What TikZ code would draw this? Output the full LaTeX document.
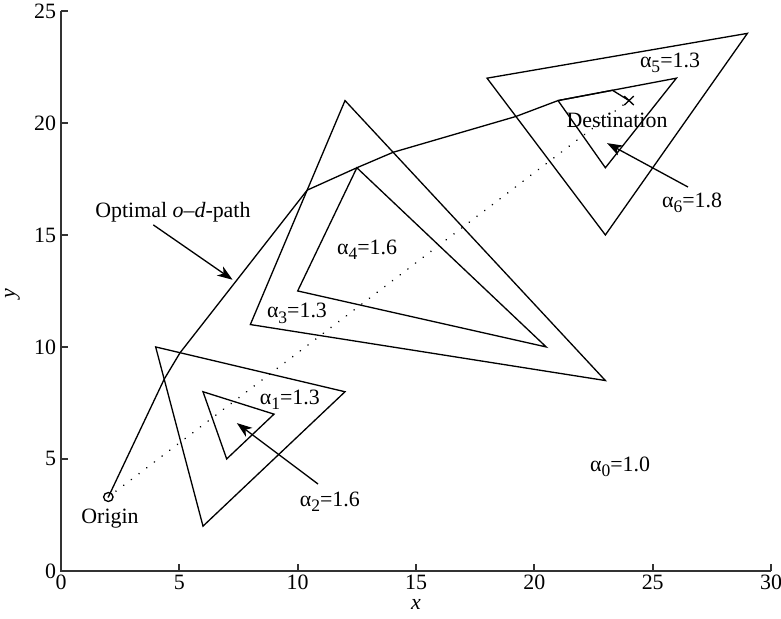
\documentclass[tikz,border=0pt]{standalone}
\usepackage{fontspec}
\setmainfont{Liberation Serif}
\usetikzlibrary{arrows.meta,calc}
\newcommand{\alab}[2]{α\raisebox{-0.5ex}{\footnotesize #1}=#2}

\begin{document}
\begin{tikzpicture}[x=0.38cm,y=0.3596cm,
    edge/.style={line width=0.6pt},
    pointer/.style={line width=0.6pt,-{Stealth[length=7pt,width=5pt,inset=2pt]}},
    axis/.style={line width=0.9pt,black!80},
    lab/.style={font=\fontsize{10}{12}\selectfont,inner sep=1pt}]

\useasboundingbox (-2.577,-2.143) rectangle (30.42,25.49);

% ============================================
% 1. AXES
% ============================================
\draw[axis] (0,25) -- (0,0) -- (30,0);
\foreach \t in {0,5,...,30}{
    \draw[axis] (\t,0) -- (\t,0.3);
    \node[lab,anchor=north,inner sep=0.5pt] at (\t,-0.12) {\t};
}
\foreach \t in {0,5,...,25}{
    \draw[axis] (0,\t) -- (0.3,\t);
    \node[lab,anchor=east] at (-0.1,\t) {\t};
}
\node[lab,inner sep=0pt] (xlab) at (15,-1.5) {\textit{x}};
\node[lab,rotate=90] (ylab) at (-2.05,12.4) {\textit{y}};

% ============================================
% 2. REGIONS
% ============================================
% Triangle 1 and 2
\draw[edge] (4,10) -- (12,8) -- (6,2) -- cycle;
\draw[edge] (6,8) -- (9,7) -- (7,5) -- cycle;
% Triangle 3 and 4
\draw[edge] (8,11) -- (12,21) -- (23,8.5) -- cycle;
\draw[edge] (10,12.5) -- (12.5,18) -- (20.5,10) -- cycle;
% Triangle 5 and 6
\draw[edge] (18,22) -- (29,24) -- (23,15) -- cycle;
\draw[edge] (21,21) -- (26,22) -- (23,18) -- cycle;

% ============================================
% 3. PATHS
% ============================================
\coordinate (O) at (2,3.3);
\coordinate (D) at (24,21);

% straight line
\draw[line width=0.8pt,line cap=round,dash pattern=on 0.01pt off 4.4pt] (O) -- (D);

% optimal path
\coordinate (P1) at (4.36,8.56);
\coordinate (P2) at (5.03,9.74);
\coordinate (P3) at (10.4,17);
\coordinate (P4) at (12.5,18);
\coordinate (P5) at (14.03,18.69);
\coordinate (P6) at (19.22,20.29);
\coordinate (P7) at (21,21);
\coordinate (P8) at (23.3,21.46);
\draw[edge] (O) -- (P1) -- (P2) -- (P3) -- (P4) -- (P5) -- (P6) -- (P7) -- (P8) -- (D);

% end points
\draw[edge] (O) circle[radius=0.2];
\draw[edge] ($(D)+(-0.2,0.2)$) -- ++(0.4,-0.4);
\draw[edge] ($(D)+(-0.2,-0.2)$) -- ++(0.4,0.4);

% ============================================
% 4. LABELS
% ============================================
\node[lab] (origin) at (2.07,2.35) {Origin};
\node[lab] (dest) at (23.49,20.13) {Destination};
\node[lab] (odpath) at (4.73,16.0) {Optimal \textit{o}–\textit{d}-path};
\coordinate (odtip) at (7.25,13.0);
\draw[pointer] (3.9,15.45) -- (odtip);

\node[lab] (a0) at (23.62,4.64) {\alab{0}{1.0}};
\node[lab] (a1) at (9.67,7.63) {\alab{1}{1.3}};
\node[lab] (a2) at (11.36,3.08) {\alab{2}{1.6}};
\coordinate (a2tip) at (7.43,6.6);
\draw[pointer] (10.86,3.88) -- (a2tip);
\node[lab] (a3) at (9.97,11.5) {\alab{3}{1.3}};
\node[lab] (a4) at (12.93,14.33) {\alab{4}{1.6}};
\node[lab] (a5) at (25.73,22.68) {\alab{5}{1.3}};
\node[lab] (a6) at (26.66,16.43) {\alab{6}{1.8}};
\coordinate (a6tip) at (23.07,19.1);
\draw[pointer] (26.49,17.14) -- (a6tip);

\end{tikzpicture}
\end{document}
